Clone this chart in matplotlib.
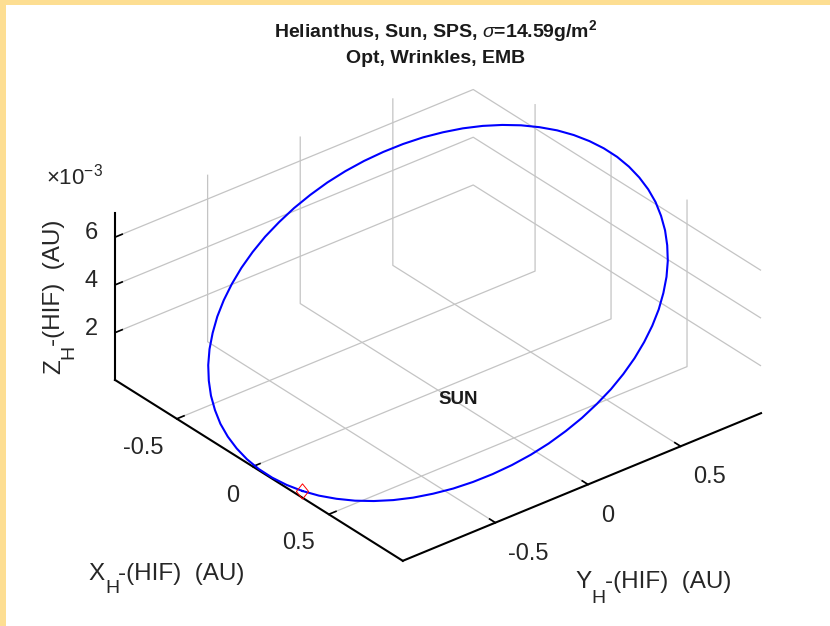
import numpy as np
import matplotlib
matplotlib.use('Agg')
import matplotlib.pyplot as plt
from matplotlib.patches import Rectangle
from matplotlib.ticker import NullFormatter

plt.rcParams['font.family'] = ['Liberation Sans', 'DejaVu Sans']
plt.rcParams['mathtext.fontset'] = 'custom'
plt.rcParams['mathtext.rm'] = 'Liberation Sans'
plt.rcParams['mathtext.it'] = 'Liberation Sans:italic'
plt.rcParams['mathtext.bf'] = 'Liberation Sans:bold'
plt.rcParams['grid.color'] = '#c4c4c4'
plt.rcParams['grid.linewidth'] = 0.9
plt.rcParams['xtick.major.width'] = 1.2
plt.rcParams['ytick.major.width'] = 1.2

# heliocentric path over one revolution (x, y in AU, z in 1e-3 AU)
x_au = [0.285, 0.364, 0.440, 0.514, 0.583, 0.649, 0.710, 0.765, 0.816, 0.860,
        0.898, 0.930, 0.955, 0.973, 0.983, 0.987, 0.983, 0.973, 0.955, 0.930,
        0.898, 0.860, 0.816, 0.765, 0.710, 0.649, 0.583, 0.514, 0.440, 0.364,
        0.285, 0.204, 0.123, 0.040, -0.043, -0.124, -0.205, -0.284, -0.360,
        -0.434, -0.503, -0.569, -0.630, -0.685, -0.736, -0.780, -0.818, -0.850,
        -0.875, -0.893, -0.903, -0.907, -0.903, -0.893, -0.875, -0.850, -0.818,
        -0.780, -0.736, -0.685, -0.630, -0.569, -0.503, -0.434, -0.360, -0.284,
        -0.205, -0.124, -0.043, 0.040, 0.123, 0.204, 0.285]
y_au = [-0.967, -0.942, -0.909, -0.870, -0.825, -0.774, -0.717, -0.655, -0.588,
        -0.517, -0.442, -0.364, -0.283, -0.201, -0.117, -0.033, 0.051, 0.135,
        0.217, 0.298, 0.376, 0.451, 0.522, 0.589, 0.651, 0.708, 0.759, 0.804,
        0.843, 0.876, 0.901, 0.919, 0.930, 0.934, 0.930, 0.919, 0.901, 0.876,
        0.843, 0.804, 0.759, 0.708, 0.651, 0.589, 0.522, 0.451, 0.376, 0.298,
        0.217, 0.135, 0.051, -0.033, -0.117, -0.201, -0.283, -0.364, -0.442,
        -0.517, -0.588, -0.655, -0.717, -0.774, -0.825, -0.870, -0.909, -0.942,
        -0.967, -0.985, -0.996, -1.000, -0.996, -0.985, -0.967]
z_milli = [0.033, 0.073, 0.139, 0.231, 0.348, 0.489, 0.653, 0.839, 1.045, 1.270,
           1.512, 1.770, 2.041, 2.323, 2.614, 2.912, 3.215, 3.520, 3.825, 4.128,
           4.426, 4.717, 4.999, 5.270, 5.528, 5.770, 5.995, 6.201, 6.387, 6.551,
           6.692, 6.809, 6.901, 6.967, 7.007, 7.020, 7.007, 6.967, 6.901, 6.809,
           6.692, 6.551, 6.387, 6.201, 5.995, 5.770, 5.528, 5.270, 4.999, 4.717,
           4.426, 4.128, 3.825, 3.520, 3.215, 2.912, 2.614, 2.323, 2.041, 1.770,
           1.512, 1.270, 1.045, 0.839, 0.653, 0.489, 0.348, 0.231, 0.139, 0.073,
           0.033, 0.020, 0.033]

x_ticks = [-0.5, 0, 0.5]
y_ticks = [-0.5, 0, 0.5]
z_ticks = [2, 4, 6]
x_tick_labels = ['-0.5', '0', '0.5']
y_tick_labels = ['-0.5', '0', '0.5']
z_tick_labels = ['2', '4', '6']
x_range = (-0.907, 0.987)
y_range = (-1.0, 0.934)
z_range = (0.02, 7.02)

W, H = 830, 626
fig = plt.figure(figsize=(W / 100, H / 100), dpi=100)

# square 3d axes, sized so the box lands where it should
S = 620
cx, cy = 438, 313
ax = fig.add_axes([(cx - 0.5135 * S) / W, (H - cy - 0.5135 * S) / H, S / W, S / H],
                  projection='3d')
ax.set_proj_type('ortho')
ax.view_init(elev=30.6, azim=-39.0)
ax.set_box_aspect((1, 1.008, 0.4245), zoom=657.9 / S)

ax.set_xlim(x_range)
ax.set_ylim(y_range)
ax.set_zlim(z_range[0] * 1e-3, z_range[1] * 1e-3)
ax.set_xticks(x_ticks)
ax.set_yticks(y_ticks)
ax.set_zticks([t * 1e-3 for t in z_ticks])
ax.zaxis.set_ticks_position('lower')
ax.grid(True)

for a in (ax.xaxis, ax.yaxis, ax.zaxis):
    a.set_major_formatter(NullFormatter())
    a.set_tick_params(label1On=False)
    a.offsetText.set_visible(False)
    a.label.set_visible(False)
    a.set_pane_color((1, 1, 1, 0))
    a.line.set_color('black')
    a.line.set_linewidth(1.5)
    a._axinfo['tick']['inward_factor'] = 0.0
    a._axinfo['tick']['outward_factor'] = 0.25
    a._axinfo['tick']['color'] = 'black'

zs = [z * 1e-3 for z in z_milli]
ax.plot(x_au, y_au, zs, color='blue', lw=1.5)
diamond = [(0, -1), (0.8, 0), (0, 1), (-0.8, 0), (0, -1)]
ax.plot([x_au[0]], [y_au[0]], [zs[0]], ls='none', marker=diamond, ms=11,
        mfc='none', mec='red', mew=0.7)

# flat text anchored at a projected 3d point
M = ax.get_proj()

def text_at(x, y, z, s, **kw):
    p = M @ np.array([x, y, z, 1.0])
    return ax.text2D(p[0] / p[3], p[1] / p[3], s, transform=ax.transData, **kw)

text_at(0, 0, 0, 'SUN', fontsize=13.5, fontweight='bold', ha='left', va='top',
        color='#1a1a1a')

# tick labels sit just outside the box edges
tick_style = dict(fontsize=17, color='#262626', va='center')
z_lo = z_range[0] * 1e-3
for t, lab in zip(x_ticks, x_tick_labels):
    text_at(t, y_range[0] - 0.073, z_lo - 0.98e-3, lab, ha='right', **tick_style)
for t, lab in zip(y_ticks, y_tick_labels):
    text_at(x_range[1] + 0.0855, t, z_lo - 0.96e-3, lab, ha='left', **tick_style)
for t, lab in zip(z_ticks, z_tick_labels):
    text_at(x_range[0] - 0.07, y_range[0] - 0.035, t * 1e-3, lab, ha='right',
            **tick_style)

# labels and titles in figure pixels
def px(x, y):
    return x / W, 1 - y / H

fig.text(*px(436, 37), r'Helianthus, Sun, SPS, $\sigma$=14.59g/m$^{\mathbf{2}}$',
         ha='center', va='baseline', fontsize=14, fontweight='bold', color='#1a1a1a')
fig.text(*px(436, 63), 'Opt, Wrinkles, EMB', ha='center', va='baseline',
         fontsize=14, fontweight='bold', color='#1a1a1a')
fig.text(*px(46, 185), r'×10$^{-3}$', ha='left', va='baseline', fontsize=16,
         color='#262626')

# axis names with a large, low subscript H
lab = dict(color='#262626', ha='left', va='baseline')
fig.text(*px(88, 580), 'X', fontsize=17.5, **lab)
fig.text(*px(105, 593), 'H', fontsize=14, **lab)
fig.text(*px(118, 580), '-(HIF)  (AU)', fontsize=17.5, **lab)
fig.text(*px(575, 588), 'Y', fontsize=17.5, **lab)
fig.text(*px(591, 603), 'H', fontsize=14, **lab)
fig.text(*px(605, 588), '-(HIF)  (AU)', fontsize=17.5, **lab)
rot = dict(lab, rotation=90, rotation_mode='anchor')
fig.text(*px(60, 374), 'Z', fontsize=17.5, **rot)
fig.text(*px(73, 359), 'H', fontsize=14, **rot)
fig.text(*px(60, 346), '-(HIF)  (AU)', fontsize=17.5, **rot)

# yellow frame on the top and left edges
frame = '#fdde92'
fig.patches.append(Rectangle((0, 0), 6 / W, 1, transform=fig.transFigure,
                             facecolor=frame, edgecolor='none'))
fig.patches.append(Rectangle((0, 1 - 5 / H), 1, 5 / H, transform=fig.transFigure,
                             facecolor=frame, edgecolor='none'))

fig.savefig('out.png', dpi=100)
